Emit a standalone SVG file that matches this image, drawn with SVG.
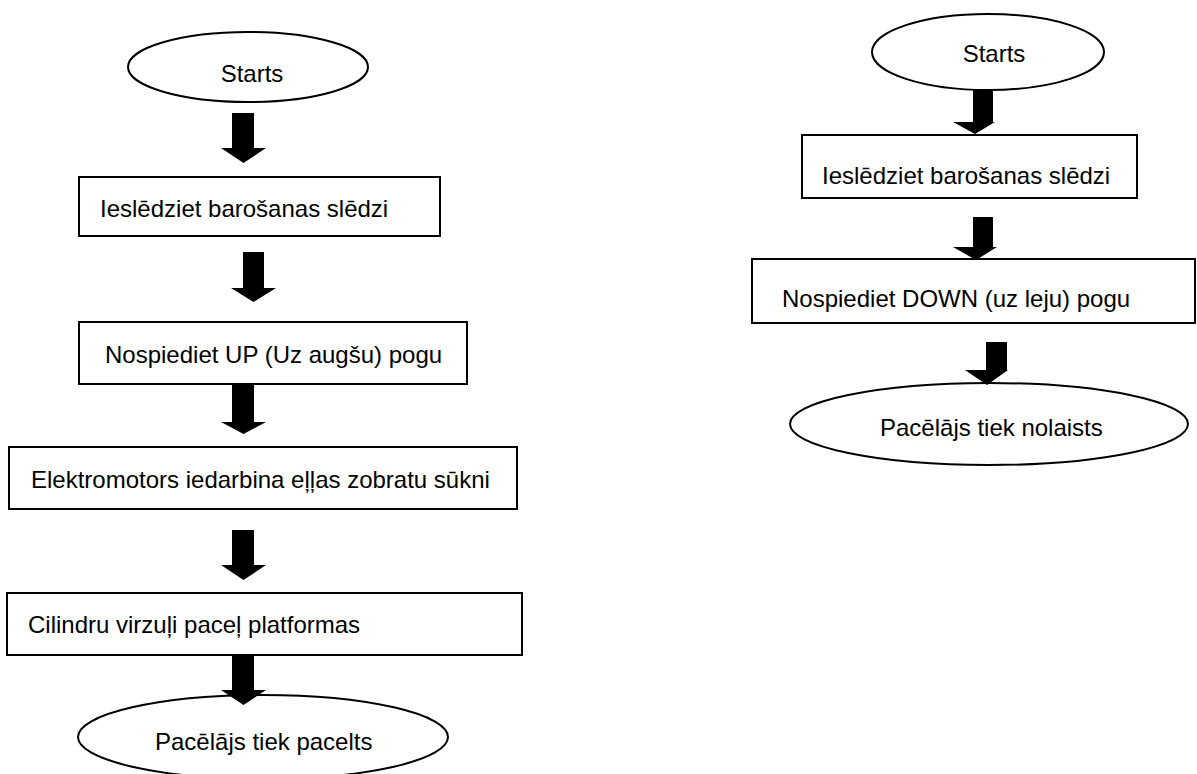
<svg xmlns="http://www.w3.org/2000/svg" width="1197" height="774" viewBox="0 0 1197 774">
<style>
.n{fill:#fff;stroke:#000;stroke-width:2}
.t{font-family:"Liberation Sans",Arial,sans-serif;font-size:24px;fill:#000}
.a{fill:#000;stroke:none}
</style>
<rect width="1197" height="774" fill="#fff"/>
<g id="l-start"><ellipse class="n" cx="248" cy="67" rx="120" ry="35"/><text class="t" x="252" y="82" text-anchor="middle">Starts</text></g>
<g id="l-box1"><rect class="n" x="79" y="177" width="361" height="59"/><text class="t" x="100" y="217">Ieslēdziet barošanas slēdzi</text></g>
<g id="l-box2"><rect class="n" x="79" y="322" width="388" height="62"/><text class="t" x="105" y="363">Nospiediet UP (Uz augšu) pogu</text></g>
<g id="l-box3"><rect class="n" x="9" y="447" width="508" height="62"/><text class="t" x="31" y="488">Elektromotors iedarbina eļļas zobratu sūkni</text></g>
<g id="l-box4"><rect class="n" x="7" y="593" width="515" height="62"/><text class="t" x="28" y="633">Cilindru virzuļi paceļ platformas</text></g>
<g id="l-end"><ellipse class="n" cx="263" cy="737" rx="185" ry="42"/><text class="t" x="155" y="750">Pacēlājs tiek pacelts</text></g>
<g id="r-start"><ellipse class="n" cx="988" cy="52" rx="116" ry="38"/><text class="t" x="994" y="62" text-anchor="middle">Starts</text></g>
<g id="r-box1"><rect class="n" x="802" y="135" width="335" height="63"/><text class="t" x="822" y="184">Ieslēdziet barošanas slēdzi</text></g>
<g id="r-box2"><rect class="n" x="752" y="259" width="443" height="64"/><text class="t" x="782" y="307">Nospiediet DOWN (uz leju) pogu</text></g>
<g id="r-end"><ellipse class="n" cx="989" cy="424" rx="199" ry="41"/><text class="t" x="880" y="436">Pacēlājs tiek nolaists</text></g>
<g id="connectors">
<polygon class="a" points="232,113 254,113 254,148 266,148 243.5,163 221,148 232,148"/>
<polygon class="a" points="243,252 264,252 264,288 276,288 253.5,302 231,288 243,288"/>
<polygon class="a" points="232,385 254,385 254,422 266,422 243.5,434 221,422 232,422"/>
<polygon class="a" points="232,530 254,530 254,565 266,565 243.5,580 221,565 232,565"/>
<polygon class="a" points="232,655 254,655 254,690 266,690 243.5,705 221,690 232,690"/>
<polygon class="a" points="973,90 993,90 993,122 995,122 975,134 953,122 973,122"/>
<polygon class="a" points="973,217 993,217 993,247 997,247 976,260 953,247 973,247"/>
<polygon class="a" points="986,342 1007,342 1007,370 1008,370 987,385 965,370 986,370"/>
</g>
</svg>
